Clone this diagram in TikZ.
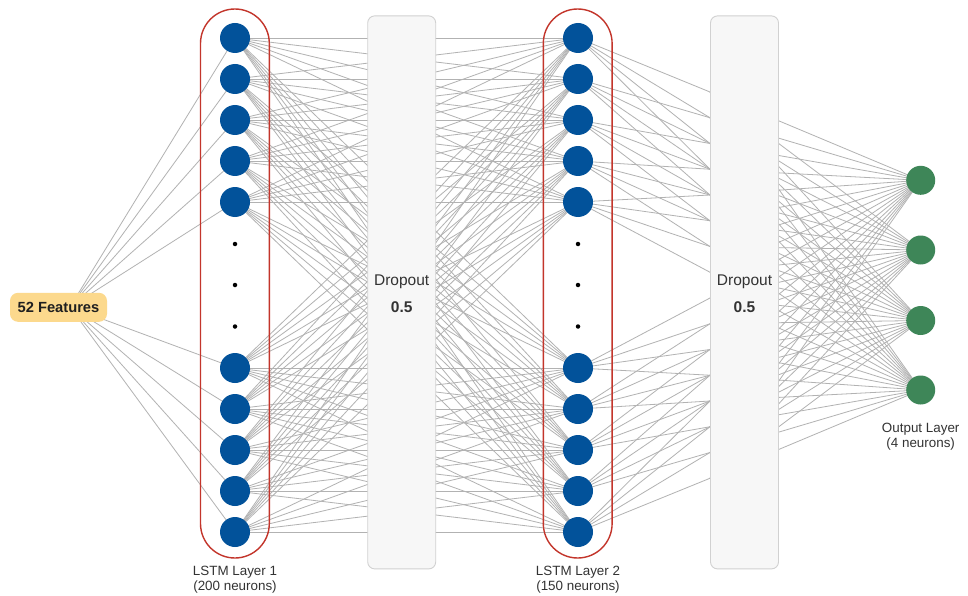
\documentclass[tikz,border=0pt]{standalone}
\usepackage{fontspec}
\setmainfont{Liberation Sans}
\definecolor{nblue}{HTML}{02529A}
\definecolor{ngreen}{HTML}{3E8658}
\definecolor{cred}{HTML}{C3352B}
\definecolor{featfill}{HTML}{FCD98D}
\definecolor{linegray}{HTML}{B2B2B2}
\definecolor{txtgray}{HTML}{333333}
\pgfdeclarelayer{back}
\pgfdeclarelayer{bg}
\pgfsetlayers{back,bg,main}
\begin{document}
\begin{tikzpicture}[x=1pt,y=-1pt,
  conn/.style={draw=linegray, line width=0.8pt},
  neuronA/.style={circle, fill=nblue, minimum size=30pt, inner sep=0pt},
  neuronO/.style={circle, fill=ngreen, minimum size=29pt, inner sep=0pt},
  vdot/.style={circle, fill=black, minimum size=4.5pt, inner sep=0pt},
  capsule/.style={draw=cred, line width=1.4pt, rounded corners=34.4pt},
  dropbox/.style={draw=black!18, fill=black!3, rounded corners=7pt, line width=0.9pt,
    minimum width=68pt, minimum height=553pt, inner sep=0pt},
  droptxt/.style={text=txtgray, font=\fontsize{15.5}{17}\selectfont, inner sep=0pt},
  featbox/.style={fill=featfill, rounded corners=8pt, minimum width=97pt, minimum height=29pt,
    inner sep=0pt, font=\fontsize{14.7}{16}\selectfont\bfseries, text=black!88},
  lbl/.style={text=txtgray, font=\fontsize{13.4}{15}\selectfont, align=center, inner sep=0pt},
]
\begin{pgfonlayer}{back}
\fill[white] (0,0) rectangle (968,596);
\end{pgfonlayer}
\useasboundingbox (0,0) rectangle (968,596);

% dropout boxes
\node[dropbox] (drop1) at (401.7,292.4) {};
\node[dropbox] (drop2) at (744.5,292.4) {};
\node[droptxt] (d1t) at (401.7,282) {Dropout};
\node[droptxt, font=\fontsize{15.5}{17}\selectfont\bfseries] (d1v) at (401.7,307) {0.5};
\node[droptxt] (d2t) at (744.5,282) {Dropout};
\node[droptxt, font=\fontsize{15.5}{17}\selectfont\bfseries] (d2v) at (744.5,307) {0.5};

% capsules
\draw[capsule] (200.5,9) rectangle (269.3,558);
\draw[capsule] (543.3,9) rectangle (612.1,558);

% neurons
\foreach \yy [count=\i] in {38,79,120,161,202,368,409,450,491,532} {
  \node[neuronA] (a\i) at (235,\yy) {};
  \node[neuronA] (b\i) at (578,\yy) {};
}
\foreach \yy [count=\k] in {244,285,326.5} {
  \node[vdot] (da\k) at (235,\yy) {};
  \node[vdot] (db\k) at (578,\yy) {};
}
\foreach \yy [count=\k] in {180.3,250,320.5,390} {
  \node[neuronO] (o\k) at (920.7,\yy) {};
}

% features
\coordinate (fsrc) at (70,307);
\node[featbox] (feat) at (58.5,307.3) {52 Features};

% hidden fan points on left edge of second dropout
\foreach \j in {1,...,16} {
  \coordinate (p\j) at (710,{92+25.75*(\j-1)});
}

% labels
\node[lbl] (l1) at (235,579.5) {LSTM Layer 1\\(200 neurons)};
\node[lbl] (l2) at (578,579.5) {LSTM Layer 2\\(150 neurons)};
\node[lbl] (lo) at (920.7,437) {Output Layer\\(4 neurons)};

% connections
\begin{pgfonlayer}{bg}
  \foreach \i in {1,...,10} { \draw[conn] (fsrc) -- (a\i.center); }
  \foreach \i in {1,...,10} {
    \foreach \j in {1,...,10} { \draw[conn] (a\i.center) -- (b\j.center); }
  }
  \foreach \i in {1,...,5} {
    \foreach \d in {0,...,3} {
      \pgfmathtruncatemacro\jj{\i+\d}
      \draw[conn] (b\i.center) -- (p\jj);
    }
  }
  \foreach \i in {6,...,10} {
    \foreach \d in {3,...,6} {
      \pgfmathtruncatemacro\jj{\i+\d}
      \draw[conn] (b\i.center) -- (p\jj);
    }
  }
  \foreach \j in {1,...,16} {
    \foreach \k in {1,...,4} { \draw[conn] (p\j) -- (o\k.center); }
  }
\end{pgfonlayer}
\end{tikzpicture}
\end{document}
